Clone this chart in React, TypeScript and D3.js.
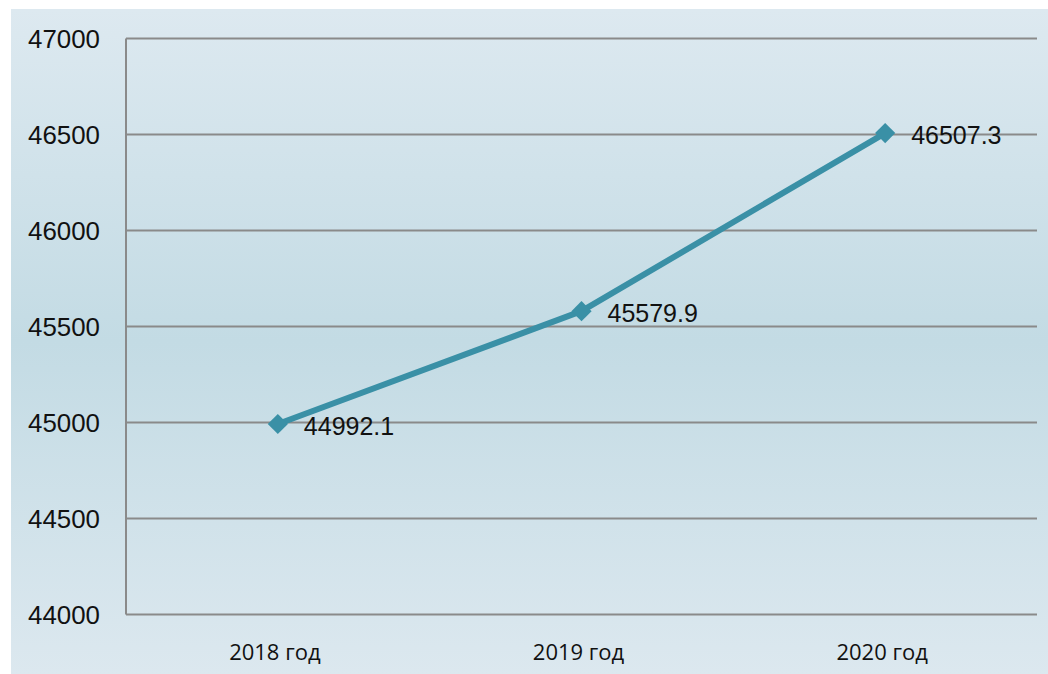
import React from "react";
import * as d3 from "d3";

const categories = ["2018 год", "2019 год", "2020 год"];
const values = [44992.1, 45579.9, 46507.3];
const yTicks = [44000, 44500, 45000, 45500, 46000, 46500, 47000];

const W = 1048;
const H = 674;
const plot = { left: 126, right: 1037, top: 38.5, bottom: 614.5 };

export default function App() {
  const x = d3
    .scaleBand<string>()
    .domain(categories)
    .range([plot.left, plot.right])
    .padding(0);
  const y = d3.scaleLinear().domain([44000, 47000]).range([plot.bottom, plot.top]);
  const cx = (c: string) => (x(c) as number) + x.bandwidth() / 2;
  const line = d3
    .line<number>()
    .x((_, i) => cx(categories[i]))
    .y((d) => y(d));
  const diamond = d3.symbol().type(d3.symbolDiamond2).size(260)();

  return (
    <svg
      width={W}
      height={H}
      style={{ position: "absolute", left: 0, top: 0, display: "block" }}
    >
      <defs>
        <linearGradient id="bg" x1="0" y1="0" x2="0" y2="1">
          <stop offset="0" stopColor="#dde9f0" />
          <stop offset="0.5" stopColor="#c3dbe4" />
          <stop offset="1" stopColor="#dce8ef" />
        </linearGradient>
      </defs>
      <rect x={11} y={9} width={W - 11} height={H - 9} fill="url(#bg)" />
      {yTicks.map((t) => (
        <g key={t}>
          <line
            x1={plot.left}
            x2={plot.right}
            y1={y(t)}
            y2={y(t)}
            stroke="#8a8a8a"
            strokeWidth={2}
          />
          <text
            x={100}
            y={y(t)}
            textAnchor="end"
            dominantBaseline="central"
            fontFamily="Liberation Sans, Arial, sans-serif"
            fontSize={25}
            textLength={72}
            lengthAdjust="spacingAndGlyphs"
            fill="#111"
          >
            {t}
          </text>
        </g>
      ))}
      <line
        x1={plot.left}
        x2={plot.left}
        y1={plot.top}
        y2={plot.bottom}
        stroke="#8a8a8a"
        strokeWidth={2}
      />
      {categories.map((c) => (
        <text
          key={c}
          x={cx(c) - 3}
          y={651}
          textAnchor="middle"
          dominantBaseline="central"
          fontFamily="Open Sans, sans-serif"
          fontSize={22}
          fill="#111"
        >
          {c}
        </text>
      ))}
      <path
        d={line(values) || ""}
        fill="none"
        stroke="#3a90a6"
        strokeWidth={6}
        strokeLinejoin="round"
      />
      {values.map((v, i) => (
        <path
          key={i}
          d={diamond || ""}
          transform={`translate(${cx(categories[i])},${y(v)})`}
          fill="#3a90a6"
        />
      ))}
      {values.map((v, i) => (
        <text
          key={"l" + i}
          x={cx(categories[i]) + 26}
          y={y(v) + 2}
          dominantBaseline="central"
          fontFamily="Liberation Sans, Arial, sans-serif"
          fontSize={25}
          fill="#111"
        >
          {v.toFixed(1)}
        </text>
      ))}
    </svg>
  );
}
